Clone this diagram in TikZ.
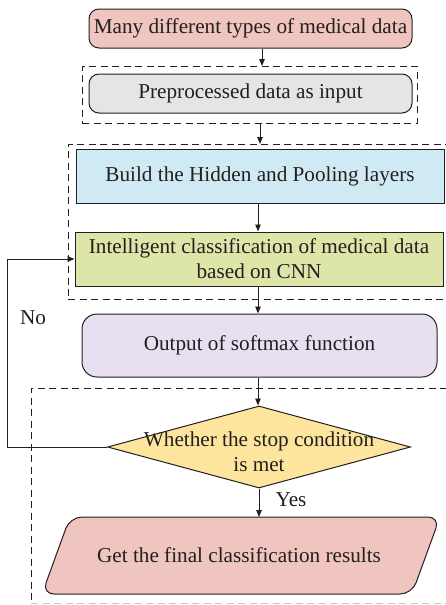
\documentclass[tikz,border=0pt]{standalone}
\usepackage{fontspec}
\setmainfont{Liberation Serif}
\usetikzlibrary{arrows.meta,shapes.geometric}
\definecolor{cpink}{HTML}{F0C4BF}
\definecolor{cgray}{HTML}{E5E5E5}
\definecolor{cblue}{HTML}{CFEAF2}
\definecolor{cgreen}{HTML}{DEE5A9}
\definecolor{cpurple}{HTML}{E8E0F1}
\definecolor{cyellow}{HTML}{FDE59E}
\definecolor{ink}{HTML}{231F20}
\begin{document}
\begin{tikzpicture}[x=1pt,y=-1pt,
  every node/.style={font=\fontsize{21.2}{25}\selectfont, text=ink, inner sep=0pt},
  box/.style={draw=ink, line width=1pt, minimum width=#1, align=center},
  arr/.style={draw=ink, line width=0.9pt, -{Triangle[length=7pt,width=5.5pt]}},
  dbox/.style={draw=ink, line width=0.9pt, dash pattern=on 7pt off 4.5pt, minimum width=#1}
]
\useasboundingbox (0,0) rectangle (446,605);
\clip (0,0) rectangle (446,605);
% dashed group boxes
\node[dbox=335, minimum height=57] (d1) at (249.5,94.5) {};
\node[dbox=402, minimum height=155] (d2) at (269,221.5) {};
\coordinate (d3tl) at (31,388);
\draw[draw=ink, line width=0.9pt, dash pattern=on 7pt off 4.5pt] (470,388) -- (d3tl) -- (31,605);
\draw[draw=ink!25, line width=0.9pt, dash pattern=on 7pt off 4.5pt] (31,603) -- (470,603);
% main nodes
\node[box=323, minimum height=39, rounded corners=10pt, fill=cpink] (b1) at (250.5,28.5) {Many different types of medical data};
\node[box=323, minimum height=39, rounded corners=10pt, fill=cgray] (b2) at (250.5,93.5) {Preprocessed data as input};
\node[box=368, minimum height=54, fill=cblue] (b3) at (260,176) {Build the Hidden and Pooling layers};
\node[box=368, minimum height=54, fill=cgreen] (b4) at (259,259) {Intelligent classification of medical data\\based on CNN};
\node[box=355, minimum height=63, rounded corners=15pt, fill=cpurple] (b5) at (259.5,345.5) {Output of softmax function};
\node[draw=ink, line width=1pt, fill=cyellow, shape=diamond, minimum width=303, minimum height=82] (dec) at (259,447) {};
\node[align=center] (dect) at (259,452) {Whether the stop condition\\is met};
% result parallelogram
\coordinate (p1) at (70,517);
\coordinate (p2) at (440,517);
\coordinate (p3) at (412,594);
\coordinate (p4) at (42,594);
\draw[draw=ink, line width=1pt, fill=cpink, rounded corners=12pt] (p1) -- (p2) -- (p3) -- (p4) -- cycle;
\node (res) at (239,555.5) {Get the final classification results};
\coordinate (restop) at (259,517);
% connector anchor points
\coordinate (a1) at (262,66);
\coordinate (a2) at (260,144);
\coordinate (lp) at (7,447);
% connectors
\draw[arr] (b1.south -| a1) -- (a1);
\draw[arr] (d1.south -| a2) -- (a2);
\draw[arr] (b3.south -| 258,0) -- (b4.north -| 258,0);
\draw[arr] (b4.south -| 258,0) -- (b5.north -| 258,0);
\draw[arr] (b5.south -| 258,0) -- (dec.north -| 258,0);
\draw[arr] (dec.south) -- (restop);
\draw[arr] (dec.west) -- (lp) |- (b4.west);
% labels
\node (no) at (33,318) {No};
\node (yes) at (291,500) {Yes};
\end{tikzpicture}
\end{document}
